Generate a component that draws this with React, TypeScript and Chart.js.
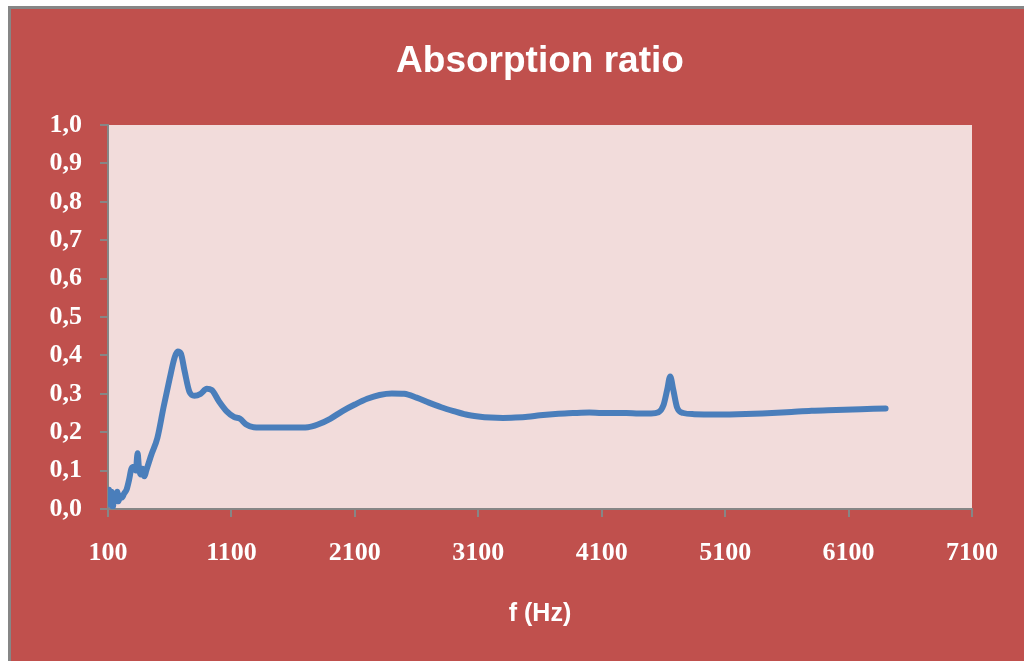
import React, { useEffect, useRef } from "react";
import Chart from "chart.js/auto";

const TITLE = "Absorption ratio";
const X_TITLE = "f (Hz)";

const freqHz = [
  100, 110, 120, 130, 140, 150, 160, 175, 185, 200, 215, 230, 250, 270, 290, 310, 325, 340, 350, 365,
  380, 395, 410, 450, 500, 550, 600, 640, 665, 690, 720, 760, 800, 850, 900, 940, 1000, 1060, 1120,
  1170, 1220, 1280, 1400, 1600, 1720, 1800, 1900, 2000, 2100, 2200, 2300, 2400, 2500, 2600, 2700,
  2800, 2900, 3000, 3100, 3200, 3300, 3400, 3500, 3600, 3700, 3800, 3900, 4000, 4100, 4200, 4300,
  4400, 4500, 4560, 4600, 4630, 4655, 4680, 4710, 4760, 4850, 5000, 5200, 5400, 5600, 5800, 6000,
  6200, 6400,
];

const absorption = [
  0.02, 0.05, 0.01, 0.045, 0.005, 0.04, 0.02, 0.045, 0.02, 0.035, 0.03, 0.04, 0.05, 0.075, 0.105,
  0.11, 0.1, 0.145, 0.11, 0.09, 0.105, 0.085, 0.1, 0.14, 0.185, 0.265, 0.34, 0.395, 0.41, 0.405,
  0.36, 0.305, 0.295, 0.3, 0.313, 0.31, 0.28, 0.255, 0.24, 0.235, 0.22, 0.213, 0.212, 0.212, 0.213,
  0.22, 0.235, 0.255, 0.272, 0.287, 0.297, 0.301, 0.3, 0.29, 0.277, 0.265, 0.255, 0.246, 0.241,
  0.238, 0.237, 0.238, 0.24, 0.244, 0.247, 0.249, 0.25, 0.251, 0.25, 0.25, 0.25, 0.249, 0.249,
  0.252, 0.27, 0.31, 0.345, 0.31, 0.265, 0.25, 0.247, 0.246, 0.247, 0.249, 0.252, 0.256, 0.258,
  0.26, 0.262,
];

const X_MIN = 100;
const X_MAX = 7100;
const X_STEP = 1000;
const Y_MIN = 0;
const Y_MAX = 1;
const Y_STEP = 0.1;

const backgroundPlugin = {
  id: "panelBackground",
  beforeDraw(chart: any) {
    const { ctx, width, height, chartArea } = chart;
    ctx.save();
    ctx.fillStyle = "#ffffff";
    ctx.fillRect(0, 0, width, height);
    ctx.fillStyle = "#868686";
    ctx.fillRect(8, 6, width - 8, height - 6);
    ctx.fillStyle = "#c0504d";
    ctx.fillRect(11, 9, width - 11, height - 9);
    ctx.fillStyle = "#f2dcdb";
    ctx.fillRect(chartArea.left, chartArea.top, chartArea.right - chartArea.left, chartArea.bottom - chartArea.top);
    ctx.restore();
  },
};

export default function App() {
  const canvasRef = useRef<HTMLCanvasElement | null>(null);

  useEffect(() => {
    if (!canvasRef.current) return;
    const points = freqHz.map((f, i) => ({ x: f, y: absorption[i] }));
    const chart = new Chart(canvasRef.current, {
      type: "line",
      data: {
        datasets: [
          {
            data: points,
            borderColor: "#4a7ebb",
            borderWidth: 6,
            pointRadius: 0,
            fill: false,
            cubicInterpolationMode: "monotone",
            borderCapStyle: "round",
            borderJoinStyle: "round",
          },
        ],
      },
      options: {
        animation: false,
        responsive: true,
        maintainAspectRatio: false,
        layout: { padding: { left: 0, right: 52, top: 0, bottom: 0 } },
        plugins: {
          legend: { display: false },
          tooltip: { enabled: false },
          title: {
            display: true,
            text: TITLE,
            fullSize: false,
            color: "#ffffff",
            font: { family: "'Liberation Sans', Arial, sans-serif", size: 37, weight: "bold", lineHeight: 1.2 },
            padding: { top: 40, bottom: 40.6 },
          },
        },
        scales: {
          x: {
            type: "linear",
            min: X_MIN,
            max: X_MAX,
            afterFit(scale: any) {
              scale.height = 152;
            },
            ticks: {
              stepSize: X_STEP,
              color: "#ffffff",
              padding: 21,
              maxRotation: 0,
              autoSkip: false,
              font: { family: "'Liberation Serif', 'Times New Roman', serif", size: 26, weight: "bold" },
              callback: (v: any) => String(v),
            },
            grid: { display: true, drawOnChartArea: false, drawTicks: true, tickLength: 8, color: "#868686", lineWidth: 2 },
            border: { display: true, color: "#868686", width: 2 },
            title: {
              display: true,
              text: X_TITLE,
              color: "#ffffff",
              font: { family: "'Liberation Sans', Arial, sans-serif", size: 25, weight: "bold", lineHeight: 1.2 },
              padding: { top: 0, bottom: 32 },
            },
          },
          y: {
            type: "linear",
            min: Y_MIN,
            max: Y_MAX,
            afterFit(scale: any) {
              scale.width = 108;
            },
            ticks: {
              stepSize: Y_STEP,
              color: "#ffffff",
              padding: 18,
              font: { family: "'Liberation Serif', 'Times New Roman', serif", size: 26, weight: "bold" },
              callback: (v: any) => Number(v).toFixed(1).replace(".", ","),
            },
            grid: { display: true, drawOnChartArea: false, drawTicks: true, tickLength: 8, color: "#868686", lineWidth: 2 },
            border: { display: true, color: "#868686", width: 2 },
          },
        },
      },
      plugins: [backgroundPlugin],
    } as any);
    return () => chart.destroy();
  }, []);

  return (
    <div style={{ position: "fixed", left: 0, top: 0, width: 1024, height: 661 }}>
      <canvas ref={canvasRef} />
    </div>
  );
}
